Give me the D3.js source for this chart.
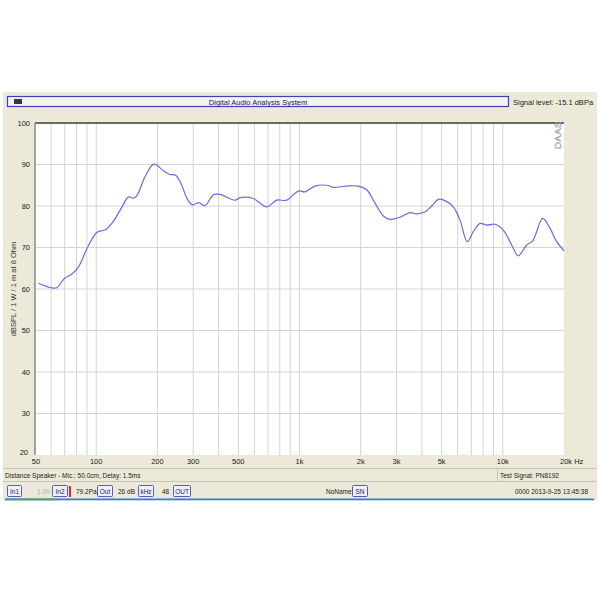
<!DOCTYPE html>
<html>
<head>
<meta charset="utf-8">
<script src="https://cdn.jsdelivr.net/npm/d3@7"></script>
<style>
  body { margin: 0; background: #fff; }
  svg { display: block; font-family: "Liberation Sans", Arial, sans-serif; }
</style>
</head>
<body>
<svg id="chart" width="600" height="600"></svg>
<script>
// frequency response (Hz / dB)
var freqs = [52, 60, 64, 70, 76, 82, 91, 101, 110, 121, 134, 144, 152, 158, 174, 191, 198, 214, 231, 246,
             263, 279, 297, 320, 343, 377, 406, 482, 510, 593, 690, 773, 865, 987, 1064, 1192, 1361, 1467, 1707, 1946,
             2141, 2352, 2584, 2787, 3121, 3496, 3771, 4142, 4469, 4815, 5194, 5708, 6158, 6688, 7160, 7725, 8335, 9155, 10060, 11060,
             11920, 13110, 14030, 15720, 17080, 18420, 20000];
var spl = [61.4, 60.3, 60.3, 62.6, 63.6, 65.4, 70.2, 73.7, 74.2, 76.2, 79.8, 82.2, 81.9, 82.4, 87.1, 90.1, 89.9, 88.5, 87.6, 87.4,
           85.1, 81.9, 80.3, 80.8, 80.1, 82.7, 82.8, 81.4, 82.0, 81.8, 79.8, 81.4, 81.4, 83.6, 83.4, 84.8, 85.0, 84.5, 84.8, 84.8,
           83.9, 80.7, 77.6, 76.8, 77.3, 78.4, 78.1, 78.6, 80.0, 81.6, 81.3, 79.8, 76.6, 71.4, 73.8, 75.8, 75.4, 75.6, 74.2, 70.6,
           68.0, 70.6, 71.6, 77.0, 74.6, 71.4, 69.2];

var xTicks = [50, 100, 200, 300, 500, 1000, 2000, 3000, 5000, 10000, 20000];
var xTickLabels = ["50", "100", "200", "300", "500", "1k", "2k", "3k", "5k", "10k", "20k Hz"];
var xGrid = [60, 70, 80, 90, 100, 200, 300, 400, 500, 600, 700, 800, 900,
             1000, 2000, 3000, 4000, 5000, 6000, 7000, 8000, 9000, 10000];
var yTicks = [20, 30, 40, 50, 60, 70, 80, 90, 100];

var svg = d3.select("#chart");

// window panel
svg.append("rect").attr("x", 3).attr("y", 92).attr("width", 594).attr("height", 408).attr("fill", "#ece9d8");

// title bar
svg.append("rect").attr("x", 7.5).attr("y", 96.5).attr("width", 501).attr("height", 10)
    .attr("fill", "#f4f3ee").attr("stroke", "#4040b8").attr("stroke-width", 1.2);
svg.append("rect").attr("x", 14).attr("y", 99).attr("width", 8).attr("height", 5).attr("fill", "#303848");
svg.append("text").attr("x", 258).attr("y", 104.5).attr("text-anchor", "middle")
    .attr("font-size", 7.5).attr("fill", "#1a1a60").text("Digital Audio Analysis System");
svg.append("text").attr("x", 513).attr("y", 104.5)
    .attr("font-size", 7.5).attr("fill", "#222").text("Signal level: -15.1 dBPa");

var margin = { left: 35, top: 123, right: 564, bottom: 455 };

var x = d3.scaleLog().domain([50, 20000]).range([margin.left, margin.right]);
var y = d3.scaleLinear().domain([20, 100]).range([margin.bottom, margin.top]);

// plot area
svg.append("rect").attr("x", margin.left).attr("y", margin.top)
    .attr("width", margin.right - margin.left).attr("height", margin.bottom - margin.top)
    .attr("fill", "#fff");

// grid
svg.append("g").selectAll("line").data(xGrid).enter().append("line")
    .attr("x1", d => x(d)).attr("x2", d => x(d))
    .attr("y1", margin.top).attr("y2", margin.bottom)
    .attr("stroke", "#d4d4d4").attr("stroke-width", 1);
svg.append("g").selectAll("line").data(yTicks.slice(1, -1)).enter().append("line")
    .attr("x1", margin.left).attr("x2", margin.right)
    .attr("y1", d => y(d)).attr("y2", d => y(d))
    .attr("stroke", "#d4d4d4").attr("stroke-width", 1);

// frame (top and left darker)
svg.append("line").attr("x1", margin.left).attr("x2", margin.right).attr("y1", margin.top).attr("y2", margin.top)
    .attr("stroke", "#6a6a6a").attr("stroke-width", 2);
svg.append("line").attr("x1", margin.left).attr("x2", margin.left).attr("y1", margin.top).attr("y2", margin.bottom)
    .attr("stroke", "#8a8a8a").attr("stroke-width", 1.5);

// y labels
svg.append("g").selectAll("text").data(yTicks).enter().append("text")
    .attr("x", d => d === 20 ? 28 : 30)
    .attr("y", d => y(d) + (d === 20 ? 0 : 2.5))
    .attr("text-anchor", "end").attr("font-size", 7.5).attr("fill", "#222")
    .text(d => d);

// x labels (centred on the gridline, last one starts there)
var last = xTicks.length - 1;
svg.append("g").selectAll("text").data(xTicks).enter().append("text")
    .attr("x", (d, i) => i === 0 ? x(d) + 1 : (i === last ? x(d) - 4 : x(d)))
    .attr("y", 464).attr("font-size", 7.5).attr("fill", "#222")
    .attr("text-anchor", (d, i) => i === last ? "start" : "middle")
    .text((d, i) => xTickLabels[i]);

// y axis title
svg.append("text").attr("transform", "translate(16," + y(60) + ") rotate(-90)")
    .attr("text-anchor", "middle").attr("font-size", 7.5).attr("fill", "#333")
    .text("dBSPL / 1 W / 1 m at 8 Ohm");

// watermark
svg.append("text").attr("transform", "translate(561,149) rotate(-90)")
    .attr("font-size", 9.5).attr("fill", "none").attr("stroke", "#9a9a9a").attr("stroke-width", 0.5)
    .attr("letter-spacing", 0.5).text("DAAS");

// response curve
var pts = freqs.map((f, i) => [f, spl[i]]);
var line = d3.line().x(d => x(d[0])).y(d => y(d[1])).curve(d3.curveCatmullRom.alpha(0.5));
svg.append("path").datum(pts).attr("d", line)
    .attr("fill", "none").attr("stroke", "#6b6be0").attr("stroke-width", 1.2);

// status rows
svg.append("line").attr("x1", 3).attr("x2", 597).attr("y1", 468.5).attr("y2", 468.5).attr("stroke", "#c8c5b4");
svg.append("line").attr("x1", 3).attr("x2", 597).attr("y1", 481.5).attr("y2", 481.5).attr("stroke", "#c8c5b4");
svg.append("line").attr("x1", 497.5).attr("x2", 497.5).attr("y1", 469).attr("y2", 481).attr("stroke", "#c8c5b4");
svg.append("text").attr("x", 5).attr("y", 478).attr("font-size", 6.5).attr("fill", "#222")
    .text("Distance Speaker - Mic.: 50.0cm, Delay: 1.5ms");
svg.append("text").attr("x", 500).attr("y", 478).attr("font-size", 6.5).attr("fill", "#222")
    .text("Test Signal: PN8192");

var buttons = [
    { label: "In1", x: 7, w: 14 }, { label: "In2", x: 52, w: 15 }, { label: "Out", x: 97, w: 15 },
    { label: "kHz", x: 138, w: 15 }, { label: "OUT", x: 173, w: 17 }, { label: "SN", x: 352, w: 15 }
];
var bg = svg.append("g").selectAll("g").data(buttons).enter().append("g");
bg.append("rect").attr("x", d => d.x + 0.5).attr("y", 485.5).attr("width", d => d.w).attr("height", 11)
    .attr("fill", "#eef0fb").attr("stroke", "#5a5ab8").attr("stroke-width", 1).attr("rx", 1);
bg.append("text").attr("x", d => d.x + d.w / 2 + 0.5).attr("y", 493.5).attr("text-anchor", "middle")
    .attr("font-size", 6.5).attr("fill", "#1a1a60").text(d => d.label);

var labels = [
    { t: "1.0V", x: 37, c: "#a8b0b8" }, { t: "79.2Pa", x: 76, c: "#222" }, { t: "26 dB", x: 118, c: "#222" },
    { t: "48", x: 162, c: "#222" }, { t: "NoName", x: 326, c: "#222" }
];
svg.append("g").selectAll("text").data(labels).enter().append("text")
    .attr("x", d => d.x).attr("y", 494).attr("font-size", 6.5).attr("fill", d => d.c).text(d => d.t);
svg.append("rect").attr("x", 69).attr("y", 486).attr("width", 2).attr("height", 11).attr("fill", "#d83030");
svg.append("text").attr("x", 588).attr("y", 494).attr("text-anchor", "end").attr("font-size", 6.5)
    .attr("fill", "#222").text("0000  2013-9-25  13:45:38");

// progress strip
svg.append("rect").attr("x", 5).attr("y", 498.5).attr("width", 589).attr("height", 1.8).attr("fill", "#3a7ad8");
svg.append("rect").attr("x", 5).attr("y", 498.5).attr("width", 55).attr("height", 1.8).attr("fill", "#4caa4c");
</script>
</body>
</html>
